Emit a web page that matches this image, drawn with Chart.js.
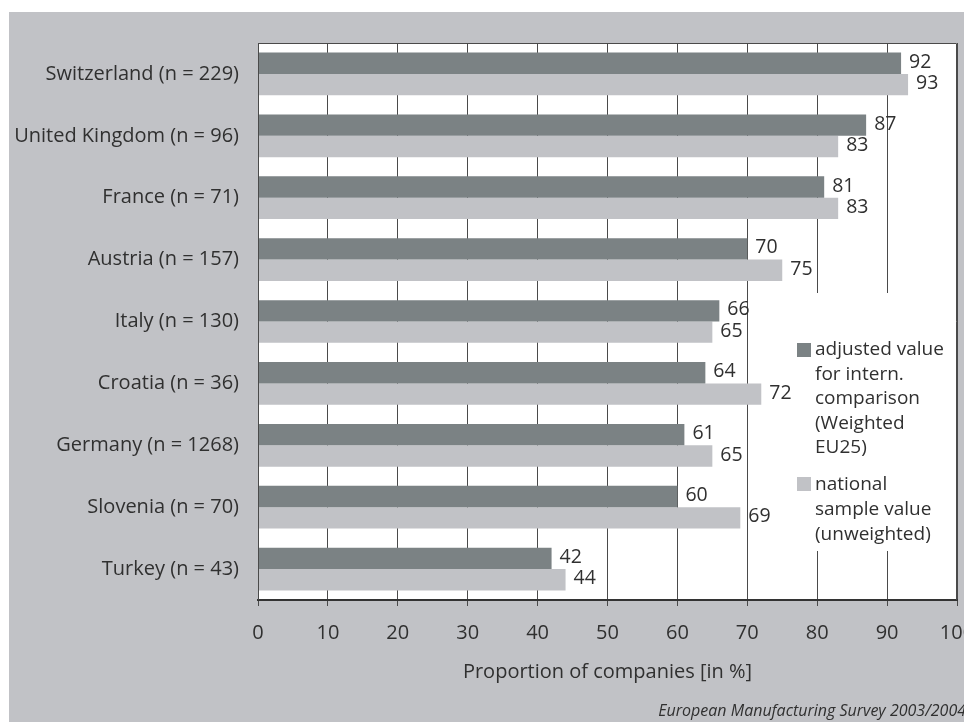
<!DOCTYPE html>
<html lang="en">
<head>
<meta charset="UTF-8">
<title>Proportion of companies</title>
<script src="https://cdn.jsdelivr.net/npm/chart.js"></script>
<style>
  html, body { margin: 0; padding: 0; background: #fff; }
  canvas { display: block; }
</style>
</head>
<body>
<canvas id="chart" width="964" height="722"></canvas>
<script>
  // data
  const countries = [
    'Switzerland (n = 229)',
    'United Kingdom (n = 96)',
    'France (n = 71)',
    'Austria (n = 157)',
    'Italy (n = 130)',
    'Croatia (n = 36)',
    'Germany (n = 1268)',
    'Slovenia (n = 70)',
    'Turkey (n = 43)'
  ];
  const adjustedValues = [92, 87, 81, 70, 66, 64, 61, 60, 42];
  const nationalValues = [93, 83, 83, 75, 65, 72, 65, 69, 44];
  const adjustedLegend = ['adjusted value', 'for intern.', 'comparison', '(Weighted', 'EU25)'];
  const nationalLegend = ['national', 'sample value', '(unweighted)'];
  const axisTitle = 'Proportion of companies [in %]';
  const sourceNote = 'European Manufacturing Survey 2003/2004';

  const FONT = '"Open Sans", "Noto Sans", sans-serif';
  const TEXT = '#303030';
  const BG = '#c1c2c6';
  const DARK = '#7b8284';
  const LIGHT = '#c1c2c6';
  const GRID = '#4a4a4a';

  // grey panel, white plot area, frame, legend, value labels, captions
  const decorations = {
    id: 'decorations',
    beforeDraw(chart) {
      const { ctx, chartArea: a } = chart;
      ctx.save();
      ctx.fillStyle = '#fff';
      ctx.fillRect(0, 0, chart.width, chart.height);
      ctx.fillStyle = BG;
      ctx.fillRect(9, 12, chart.width - 9, chart.height - 12);
      ctx.fillStyle = '#fff';
      ctx.fillRect(a.left, a.top, a.right - a.left, a.bottom - a.top);
      ctx.restore();
    },
    afterDatasetsDraw(chart) {
      const { ctx, chartArea: a } = chart;
      ctx.save();

      // frame
      ctx.strokeStyle = GRID;
      ctx.lineWidth = 1;
      ctx.beginPath();
      ctx.moveTo(a.left + 0.5, a.bottom);
      ctx.lineTo(a.left + 0.5, a.top + 0.5);
      ctx.lineTo(a.right - 0.5, a.top + 0.5);
      ctx.lineTo(a.right - 0.5, a.bottom);
      ctx.stroke();

      ctx.textAlign = 'left';
      ctx.textBaseline = 'middle';

      // legend (white box hides the gridlines behind it)
      const lx = a.right - 160;
      ctx.fillStyle = '#fff';
      ctx.fillRect(lx - 4, 293, a.right - lx + 3, 258);
      ctx.font = '19px ' + FONT;
      ctx.fillStyle = DARK;
      ctx.fillRect(lx, 343, 14, 14);
      ctx.fillStyle = TEXT;
      adjustedLegend.forEach((t, k) => ctx.fillText(t, lx + 18, 350 + k * 24.5));
      ctx.fillStyle = LIGHT;
      ctx.fillRect(lx, 477, 14, 14);
      ctx.fillStyle = TEXT;
      nationalLegend.forEach((t, k) => ctx.fillText(t, lx + 18, 485 + k * 25));

      // values next to the bars
      ctx.font = '19.5px ' + FONT;
      chart.data.datasets.forEach((ds, i) => {
        chart.getDatasetMeta(i).data.forEach((bar, j) => {
          ctx.fillText(String(ds.data[j]), bar.x + 8, bar.y - 1);
        });
      });

      // axis title and source
      ctx.textAlign = 'center';
      ctx.font = '20px ' + FONT;
      ctx.fillText(axisTitle, (a.left + a.right) / 2, 672);
      ctx.textAlign = 'right';
      ctx.font = 'italic 16px ' + FONT;
      ctx.fillText(sourceNote, 966, 711);
      ctx.restore();
    }
  };

  new Chart(document.getElementById('chart'), {
    type: 'bar',
    data: {
      labels: countries,
      datasets: [
        { label: 'adjusted value', data: adjustedValues, backgroundColor: DARK },
        { label: 'national sample value', data: nationalValues, backgroundColor: LIGHT }
      ]
    },
    options: {
      indexAxis: 'y',
      responsive: false,
      animation: false,
      layout: { padding: { top: 43, right: 7, left: 0, bottom: 0 } },
      datasets: { bar: { barPercentage: 1, categoryPercentage: 0.69 } },
      plugins: { legend: { display: false }, tooltip: { enabled: false } },
      scales: {
        x: {
          min: 0,
          max: 100,
          ticks: { stepSize: 10, padding: 15, color: TEXT, font: { family: FONT, size: 20 } },
          grid: { color: GRID, lineWidth: 1, tickLength: 6 },
          border: { color: '#333', width: 2 },
          afterFit(s) { s.height = 122; s.paddingLeft = 0; s.paddingRight = 0; }
        },
        y: {
          ticks: { padding: 19, color: TEXT, font: { family: FONT, size: 20 } },
          grid: { display: false, drawTicks: false },
          border: { display: false },
          afterFit(s) { s.width = 258; s.paddingTop = 0; s.paddingBottom = 0; }
        }
      }
    },
    plugins: [decorations]
  });
</script>
</body>
</html>
